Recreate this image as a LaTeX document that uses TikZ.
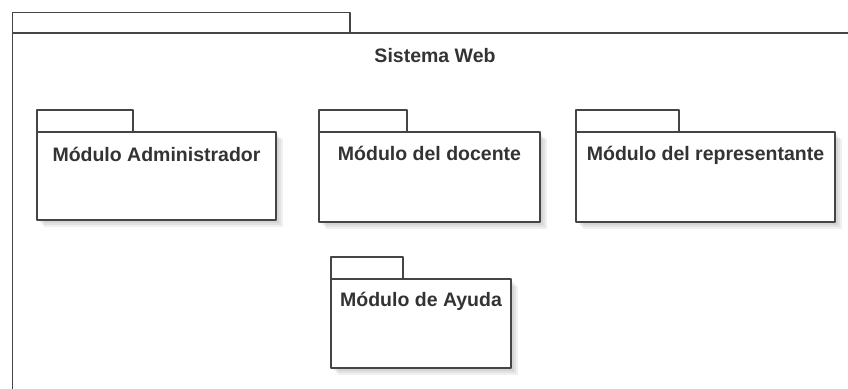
\documentclass[tikz,border=0pt]{standalone}
\usepackage{fontspec}
\setmainfont{Liberation Sans}
\definecolor{linegray}{HTML}{454545}
\definecolor{textgray}{HTML}{333333}
\begin{document}
\begin{tikzpicture}[x=1pt,y=-1pt,
  pline/.style={draw=linegray, line width=1.7pt, line join=round},
  tabbox/.style={pline, fill=white, anchor=south west, inner sep=0pt, outer sep=0pt},
  pkgbody/.style={pline, fill=white, anchor=north west, inner sep=0pt, outer sep=0pt},
  pshadow/.style={fill=black, opacity=0.06},
  lbl/.style={font=\fontsize{19.5}{22}\selectfont\bfseries, text=textgray, inner sep=0pt, anchor=base}]
\useasboundingbox (0,0) rectangle (848,388);
% outer package
\node[tabbox, minimum width=337.5pt, minimum height=20.5pt] (systab) at (12.5,33) {};
\coordinate (sysbl) at (12.5,390);
\coordinate (systr) at (850,33);
\draw[pline] (sysbl) -- (systab.south west) -- (systr);
\node[lbl] (systitle) at (435,62) {Sistema Web};
% shadows
\foreach \a/\b/\c/\d in {37/132/276/220, 319/132/540/222, 576/132/835/222, 331/279/511/368}{
  \fill[pshadow] (\a+5,\b+5) rectangle (\c+5,\d+5);
  \fill[pshadow] (\a+3,\b+3) rectangle (\c+3,\d+3);
  \fill[pshadow] (\a+7,\b+7) rectangle (\c+7,\d+7);
}
% Modulo Administrador
\node[tabbox, minimum width=96pt, minimum height=22pt] (admtab) at (37,132) {};
\node[pkgbody, minimum width=239pt, minimum height=88pt] (adm) at (37,132) {};
\node[lbl] (admlbl) at (156.5,161) {Módulo Administrador};
% Modulo del docente
\node[tabbox, minimum width=88pt, minimum height=22pt] (doctab) at (319,132) {};
\node[pkgbody, minimum width=221pt, minimum height=90pt] (doc) at (319,132) {};
\node[lbl] (doclbl) at (429.5,160.5) {Módulo del docente};
% Modulo del representante
\node[tabbox, minimum width=103pt, minimum height=22pt] (reptab) at (576,132) {};
\node[pkgbody, minimum width=259pt, minimum height=90pt] (rep) at (576,132) {};
\node[lbl] (replbl) at (705.5,160.5) {Módulo del representante};
% Modulo de Ayuda
\node[tabbox, minimum width=72pt, minimum height=22pt] (aytab) at (331,279) {};
\node[pkgbody, minimum width=180pt, minimum height=89pt] (ay) at (331,279) {};
\node[lbl] (aylbl) at (421,306.5) {Módulo de Ayuda};
\end{tikzpicture}
\end{document}
